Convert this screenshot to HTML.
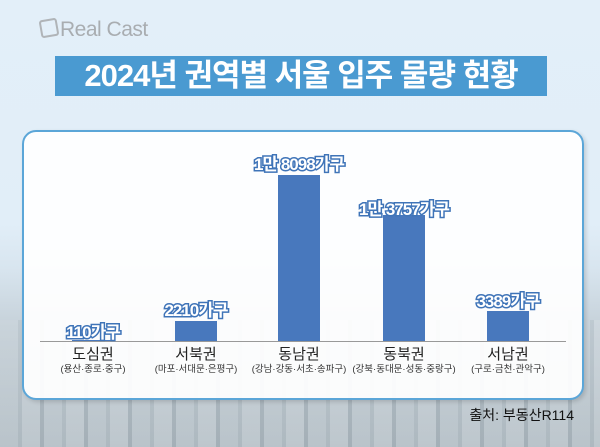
<!DOCTYPE html>
<html><head><meta charset="utf-8"><style>
body{margin:0;width:600px;height:447px;overflow:hidden;position:relative;font-family:"Liberation Sans","Noto Sans CJK KR",sans-serif;background:linear-gradient(#e3eff9 0%,#e1eef8 50%,#d8e5ef 60%,#c3ced6 75%,#a9b4bb 100%);}
.city{position:absolute;left:0;right:0;top:320px;bottom:0;background:repeating-linear-gradient(90deg,#cdd6dc 0 18px,#b3bec5 18px 22px,#d6dde2 22px 40px,#9eaab2 40px 44px);opacity:.45}
.logo{position:absolute;left:40px;top:18px;font-size:21px;color:#a9adb1;letter-spacing:-0.5px}
.logo i{display:inline-block;width:14px;height:14px;border:2px solid #b0b4b8;border-radius:3px;transform:rotate(-10deg);margin-right:2px;vertical-align:-1px}
.title{position:absolute;left:55px;top:56px;width:492px;height:40px;background:#4a9ad1;color:#fff;font-weight:bold;font-size:31px;line-height:40px;text-align:center;letter-spacing:-1px}
.panel{position:absolute;left:22px;top:130px;width:558px;height:266px;background:rgba(255,255,255,.93);border:2px solid #5ba6d8;border-radius:14px;box-shadow:2px 2px 4px rgba(0,0,0,.15)}
.axis{position:absolute;left:40px;top:341px;width:526px;height:1px;background:#999}
.bar{position:absolute;background:#4878bd;width:42px}
.v{position:absolute;font-weight:bold;font-size:17px;color:#fff;-webkit-text-stroke:3px #3f74b8;paint-order:stroke fill;transform:translateX(-50%);white-space:nowrap;letter-spacing:-1px}
.c{position:absolute;transform:translateX(-50%);text-align:center;white-space:nowrap;color:#222}
.c b{display:block;font-weight:normal;font-size:15px;line-height:17px}
.c s{display:block;text-decoration:none;font-size:9.5px;line-height:13px;color:#333}
.src{position:absolute;right:26px;top:405px;font-size:14px;color:#111}
</style></head><body>
<div class="city"></div>
<div class="logo"><i></i>Real Cast</div>
<div class="title">2024년 권역별 서울 입주 물량 현황</div>
<div class="panel"></div>
<div class="axis"></div>
<div class="bar" style="left:72px;top:340px;height:1px"></div>
<div class="bar" style="left:175px;top:321px;height:20px"></div>
<div class="bar" style="left:278px;top:175px;height:166px"></div>
<div class="bar" style="left:383px;top:215px;height:126px"></div>
<div class="bar" style="left:487px;top:311px;height:30px"></div>
<div class="v" style="left:93px;top:318px">110가구</div>
<div class="v" style="left:196px;top:296px">2210가구</div>
<div class="v" style="left:299px;top:150px">1만 8098가구</div>
<div class="v" style="left:404px;top:195px">1만 3757가구</div>
<div class="v" style="left:508px;top:287px">3389가구</div>
<div class="c" style="left:93px;top:346px"><b>도심권</b><s>(용산·종로·중구)</s></div>
<div class="c" style="left:196px;top:346px"><b>서북권</b><s>(마포·서대문·은평구)</s></div>
<div class="c" style="left:299px;top:346px"><b>동남권</b><s>(강남·강동·서초·송파구)</s></div>
<div class="c" style="left:404px;top:346px"><b>동북권</b><s>(강북·동대문·성동·중랑구)</s></div>
<div class="c" style="left:508px;top:346px"><b>서남권</b><s>(구로·금천·관악구)</s></div>
<div class="src">출처: 부동산R114</div>
</body></html>
